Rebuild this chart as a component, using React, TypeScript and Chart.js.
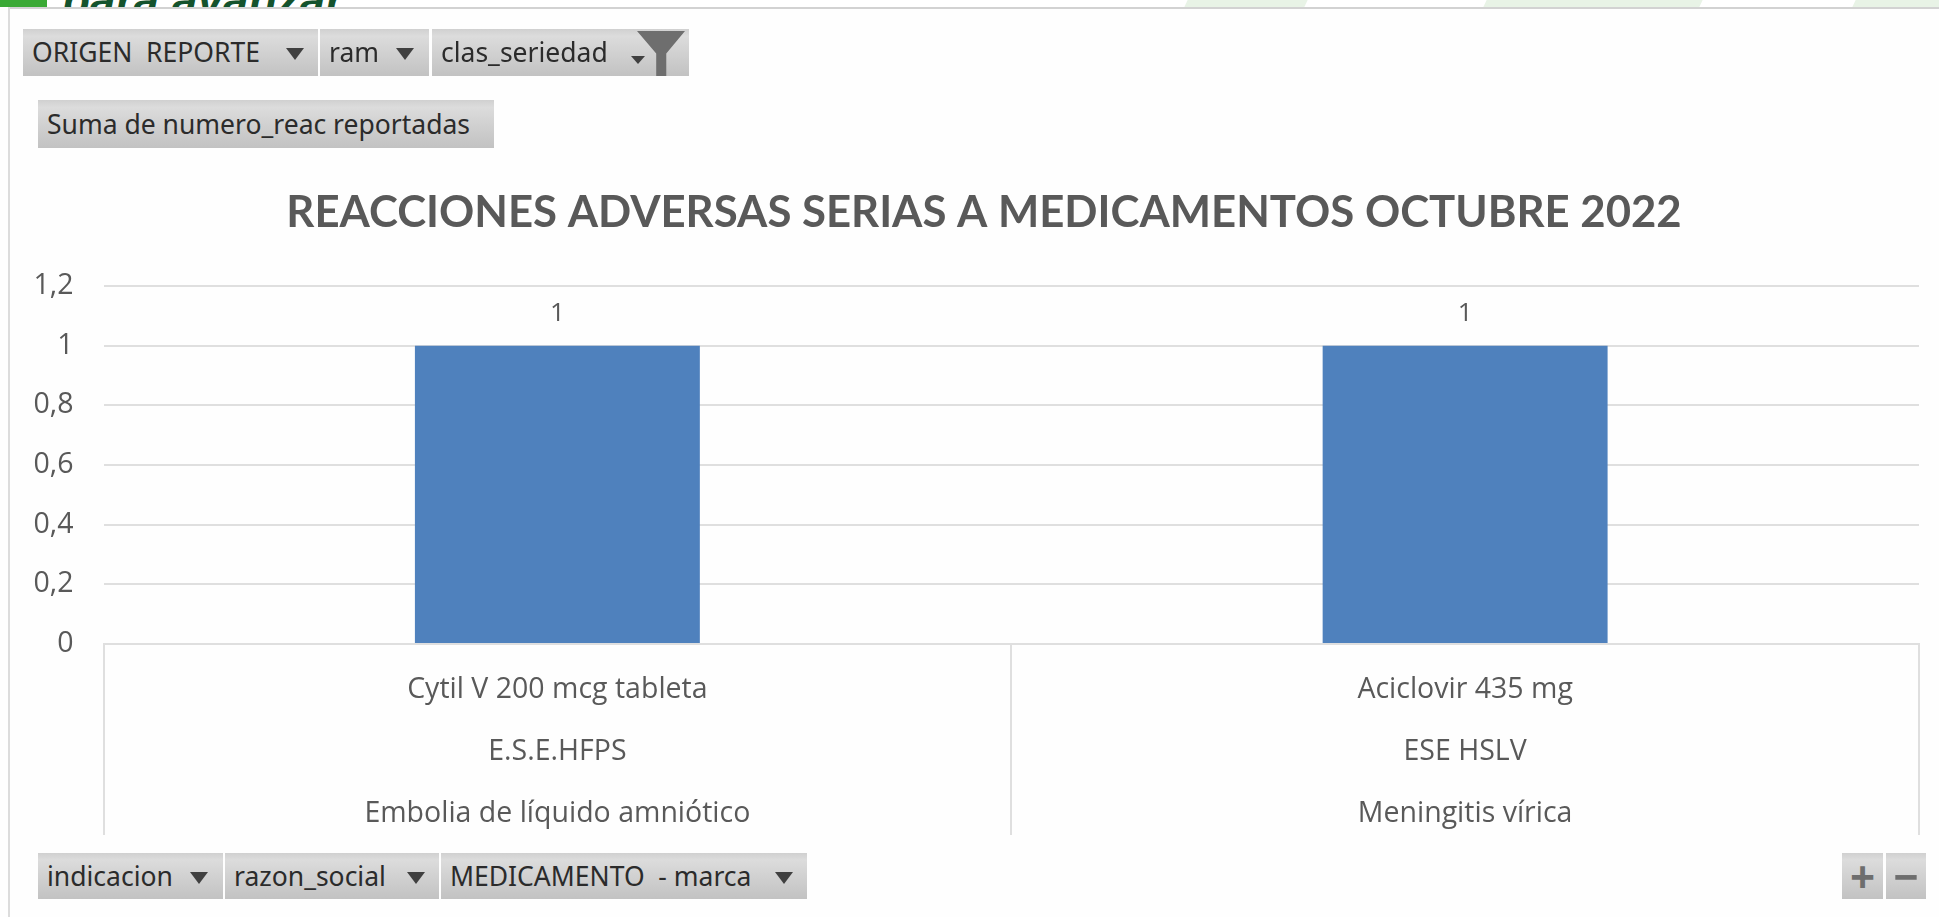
import React, { useEffect, useRef } from "react";
import { Chart, registerables } from "chart.js";

Chart.register(...registerables);

const chartTitle = "REACCIONES ADVERSAS SERIAS A MEDICAMENTOS OCTUBRE 2022";
const medicamentos = ["Cytil V 200 mcg tableta", "Aciclovir 435 mg"];
const razonSocial = ["E.S.E.HFPS", "ESE HSLV"];
const indicacion = ["Embolia de líquido amniótico", "Meningitis vírica"];
const reacciones = [1, 1];
const seriesName = "Suma de numero_reac reportadas";

const TEXT = "#595959";
const GRID = "#dfdfdf";
const BAR = "#4f81bd";
const UI_FONT = "'Noto Sans'";
const CHART_FONT = "Open Sans";

const categoryLabels = medicamentos.map((m, i) => [m, razonSocial[i], indicacion[i]]);

const valueLabels = {
  id: "valueLabels",
  afterLayout(chart: any) {
    if (chart.titleBlock) {
      chart.titleBlock.left += 14.5;
      chart.titleBlock.right += 14.5;
    }
  },
  afterDatasetsDraw(chart: any) {
    const { ctx } = chart;
    const meta = chart.getDatasetMeta(0);
    ctx.save();
    ctx.font = `26px '${CHART_FONT}'`;
    ctx.fillStyle = TEXT;
    ctx.textAlign = "center";
    ctx.textBaseline = "middle";
    meta.data.forEach((el: any, i: number) => {
      ctx.fillText(String(reacciones[i]), el.x, el.y - 32);
    });
    ctx.restore();
  },
};

const btnStyle = (left: number, top: number, width: number, height: number): React.CSSProperties => ({
  position: "absolute",
  left,
  top,
  width,
  height,
  boxSizing: "border-box",
  background: "linear-gradient(#d0d0d0, #dcdcdc 15%, #c2c2c2)",
  color: "#2b2b2b",
  font: `26.5px ${UI_FONT}`,
  lineHeight: `${height}px`,
  paddingLeft: 9,
  whiteSpace: "pre",
  overflow: "hidden",
});

const Arrow = ({ x, y, half = 9, tall = 12 }: { x: number; y: number; half?: number; tall?: number }) => (
  <div
    style={{
      position: "absolute",
      left: x,
      top: y,
      width: 0,
      height: 0,
      borderLeft: `${half}px solid transparent`,
      borderRight: `${half}px solid transparent`,
      borderTop: `${tall}px solid #404040`,
    }}
  />
);

const Btn = ({ l, t, w, h, text, arrow }: { l: number; t: number; w: number; h: number; text: string; arrow?: number }) => (
  <>
    <div style={btnStyle(l, t, w, h)}>{text}</div>
    {arrow !== undefined ? <Arrow x={arrow} y={t + 19} /> : null}
  </>
);

const Stripe = ({ l, w }: { l: number; w: number }) => (
  <div style={{ position: "absolute", left: l, top: 0, width: w, height: 7, background: "#e8f3e6", transform: "skewX(-25deg)" }} />
);

export default function App() {
  const ref = useRef<HTMLCanvasElement>(null);

  useEffect(() => {
    if (!ref.current) return;
    const chart = new Chart(ref.current, {
      type: "bar",
      data: {
        labels: categoryLabels as any,
        datasets: [
          {
            label: seriesName,
            data: reacciones,
            backgroundColor: BAR,
            barPercentage: 0.3139,
            categoryPercentage: 1,
          },
        ],
      },
      options: {
        animation: false,
        responsive: false,
        layout: { padding: { left: 20, right: 20, top: 191, bottom: 0 } },
        plugins: {
          legend: { display: false },
          tooltip: { enabled: false },
          title: {
            display: true,
            text: chartTitle,
            color: TEXT,
            font: { family: "Lato", size: 43.7, weight: "bold", lineHeight: 1 },
            padding: { top: 0, bottom: 51.3 },
          },
        },
        scales: {
          x: {
            afterFit: (s: any) => {
              s.height = 273;
            },
            grid: { drawOnChartArea: false, color: GRID, lineWidth: 2, tickLength: 191 },
            border: { color: GRID, width: 2 },
            ticks: {
              color: TEXT,
              autoSkip: false,
              maxRotation: 0,
              minRotation: 0,
              padding: -176,
              font: { family: CHART_FONT, size: 28.5, lineHeight: "62px" as any },
            },
          },
          y: {
            min: 0,
            max: 1.2,
            afterFit: (s: any) => {
              s.width = 83.5;
            },
            grid: { color: GRID, lineWidth: 2, drawTicks: false },
            border: { display: false },
            ticks: {
              stepSize: 0.2,
              color: TEXT,
              padding: 30,
              font: { family: CHART_FONT, size: 28.5 },
              callback: (v: any) => String(+Number(v).toFixed(1)).replace(".", ","),
            },
          },
        },
      },
      plugins: [valueLabels],
    });
    return () => chart.destroy();
  }, []);

  return (
    <div style={{ position: "fixed", left: 0, top: 0, width: 1939, height: 917, background: "#fefefe", overflow: "hidden" }}>
      <canvas ref={ref} width={1939} height={917} style={{ position: "absolute", left: 0, top: 0, width: 1939, height: 917 }} />

      <div style={{ position: "absolute", left: 0, top: 0, width: 1939, height: 7, overflow: "hidden", background: "#fff" }}>
        <div style={{ position: "absolute", left: 0, top: 0, width: 47, height: 7, background: "#3aa935" }} />
        <div style={{ position: "absolute", left: 62, top: -27, font: "italic bold 46px 'Liberation Sans'", color: "#14532d", whiteSpace: "pre" }}>para avanzar</div>
        <Stripe l={1186} w={120} />
        <Stripe l={1485} w={216} />
        <Stripe l={1854} w={100} />
      </div>
      <div style={{ position: "absolute", left: 8, top: 7, width: 1931, height: 2, background: "#d2d2d2" }} />
      <div style={{ position: "absolute", left: 8, top: 7, width: 2, height: 910, background: "#dcdcdc" }} />

      <Btn l={23} t={29} w={295} h={47} text="ORIGEN  REPORTE" arrow={286} />
      <Btn l={320} t={29} w={109} h={47} text="ram" arrow={396} />
      <Btn l={432} t={29} w={257} h={47} text="clas_seriedad" />
      <Arrow x={631} y={56} half={7} tall={8} />
      <div style={{ position: "absolute", left: 637, top: 31, width: 48, height: 45, background: "#6e6e6e", clipPath: "polygon(0 0, 100% 0, 61% 50%, 61% 100%, 40% 100%, 40% 50%)" }} />

      <Btn l={38} t={100} w={456} h={48} text={seriesName} />

      <Btn l={38} t={853} w={185} h={46} text="indicacion" arrow={190} />
      <Btn l={225} t={853} w={214} h={46} text="razon_social" arrow={407} />
      <Btn l={441} t={853} w={366} h={46} text="MEDICAMENTO  - marca" arrow={775} />

      <div style={{ ...btnStyle(1842, 853, 41, 46), paddingLeft: 0, textAlign: "center", color: "#6e6e6e", fontSize: 44, fontWeight: "bold" }}>+</div>
      <div style={{ ...btnStyle(1886, 853, 40, 46), paddingLeft: 0, textAlign: "center", color: "#6e6e6e", fontSize: 44, fontWeight: "bold" }}>−</div>
    </div>
  );
}
